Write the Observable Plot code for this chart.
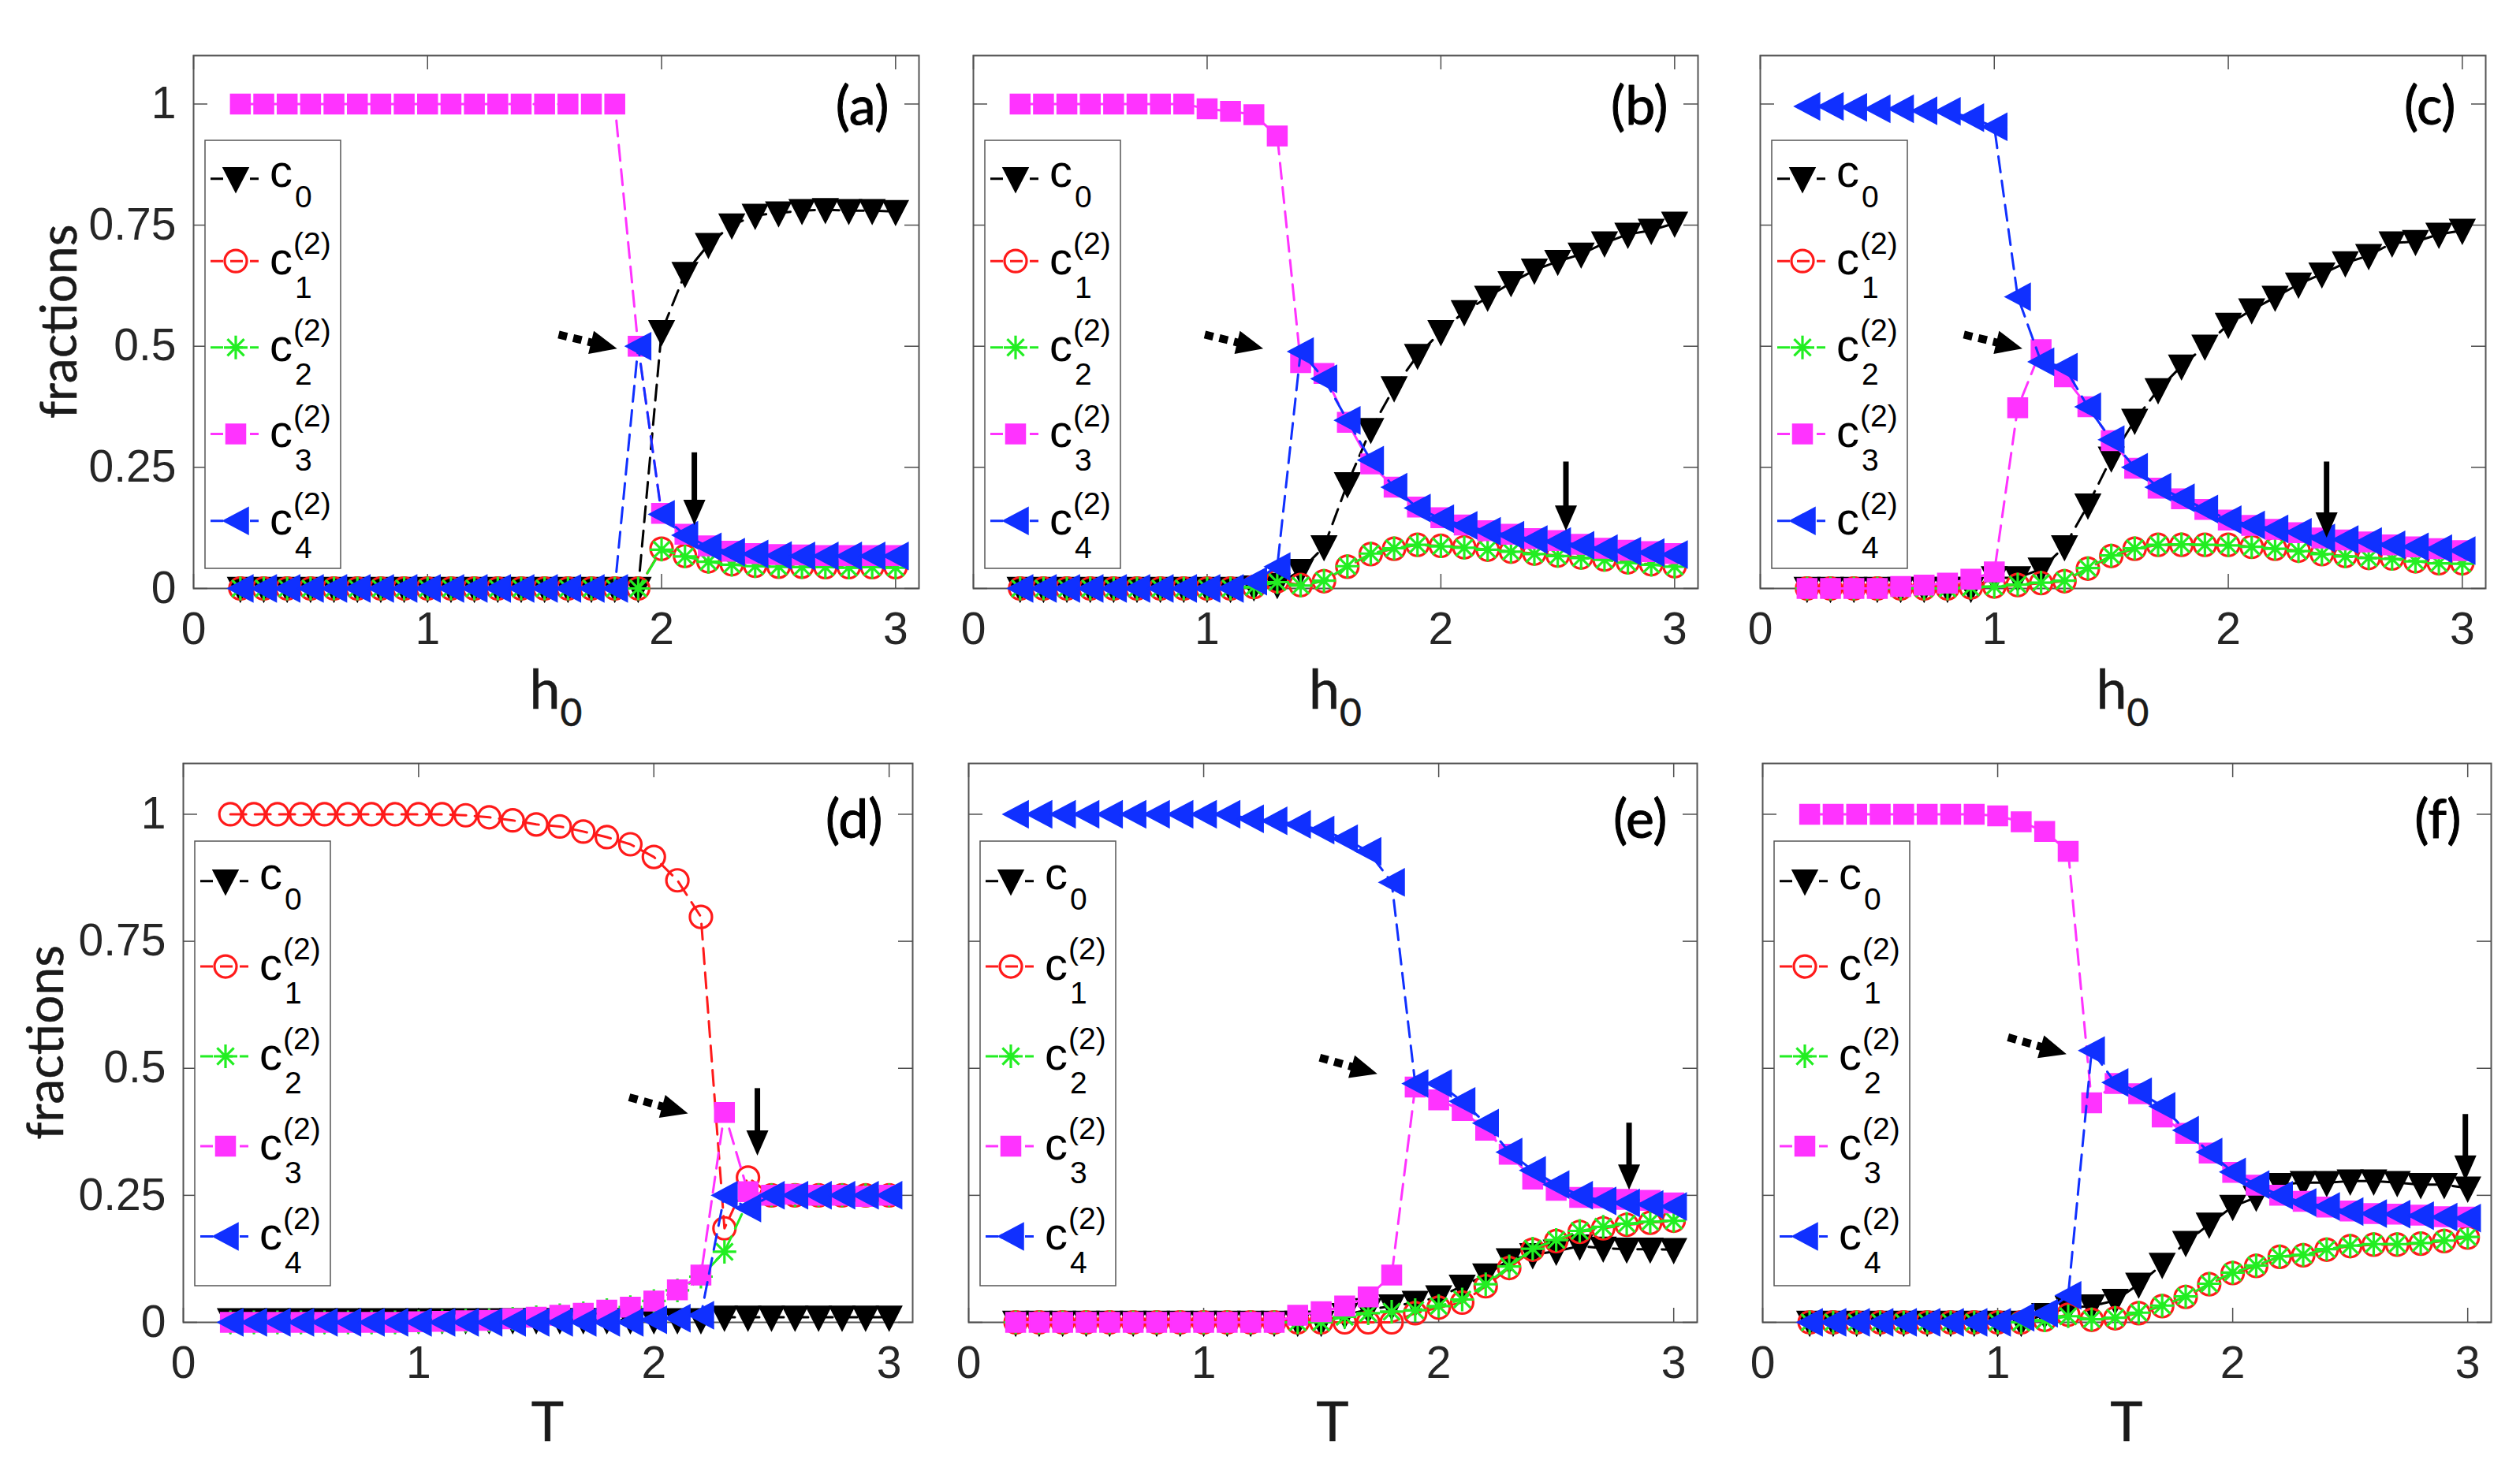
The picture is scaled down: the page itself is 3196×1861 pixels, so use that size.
<!DOCTYPE html>
<html><head><meta charset="utf-8">
<script src="https://cdn.jsdelivr.net/npm/d3@7"></script>
<script src="https://cdn.jsdelivr.net/npm/@observablehq/plot@0.6"></script>
<style>
html,body{margin:0;padding:0;background:#fff;}
#root{position:relative;width:3196px;height:1861px;overflow:hidden;background:#fff;}
</style></head><body><div id="root"></div>
<script>
// ---------- data ----------
const xValues = [0.2,0.3,0.4,0.5,0.6,0.7,0.8,0.9,1.0,1.1,1.2,1.3,1.4,1.5,1.6,1.7,1.8,1.9,2.0,2.1,2.2,2.3,2.4,2.5,2.6,2.7,2.8,2.9,3.0];
const xTicks = [0,1,2,3];
const yTicks = [0,0.25,0.5,0.75,1];
const seriesKeys = ["c0","c1","c2","c3","c4"];
const panelLabels = ["(a)","(b)","(c)","(d)","(e)","(f)"];

const a_c0 = [0,0,0,0,0,0,0,0,0,0,0,0,0,0,0,0,0,0,0.53,0.65,0.71,0.75,0.77,0.775,0.78,0.782,0.78,0.78,0.778];
const a_c1 = [0,0,0,0,0,0,0,0,0,0,0,0,0,0,0,0,0,0,0.082,0.067,0.056,0.05,0.047,0.045,0.045,0.044,0.044,0.044,0.044];
const a_c2 = [0,0,0,0,0,0,0,0,0,0,0,0,0,0,0,0,0,0,0.08,0.066,0.055,0.049,0.046,0.045,0.044,0.044,0.043,0.044,0.043];
const a_c3 = [1,1,1,1,1,1,1,1,1,1,1,1,1,1,1,1,1,0.5,0.155,0.112,0.088,0.077,0.072,0.07,0.069,0.068,0.068,0.068,0.068];
const a_c4 = [0,0,0,0,0,0,0,0,0,0,0,0,0,0,0,0,0,0.5,0.153,0.11,0.086,0.075,0.071,0.068,0.067,0.067,0.067,0.067,0.067];

const b_c0 = [0,0,0,0,0,0,0,0,0,0,0.003,0.008,0.037,0.086,0.216,0.328,0.414,0.481,0.53,0.571,0.601,0.631,0.657,0.675,0.69,0.713,0.731,0.739,0.754];
const b_c1 = [0,0,0,0,0,0,0,0,0,0,0.003,0.015,0.007,0.015,0.045,0.071,0.082,0.09,0.088,0.085,0.08,0.076,0.072,0.068,0.064,0.06,0.054,0.05,0.046];
const b_c2 = [0,0,0,0,0,0,0,0,0,0,0.003,0.013,0.006,0.016,0.046,0.072,0.083,0.09,0.087,0.084,0.08,0.076,0.071,0.067,0.063,0.059,0.053,0.049,0.045];
const b_c3 = [1,1,1,1,1,1,1,1,0.99,0.985,0.978,0.934,0.466,0.444,0.343,0.257,0.209,0.168,0.146,0.131,0.119,0.112,0.103,0.099,0.091,0.083,0.079,0.076,0.072];
const b_c4 = [0,0,0,0,0,0,0,0,0,0,0.015,0.045,0.489,0.433,0.347,0.265,0.209,0.166,0.144,0.13,0.118,0.11,0.101,0.097,0.089,0.082,0.077,0.074,0.07];

const c_c0 = [0,0,0,0,0,0,0,0,0.022,0.022,0.04,0.086,0.172,0.269,0.347,0.41,0.459,0.5,0.545,0.575,0.601,0.628,0.649,0.672,0.687,0.713,0.716,0.731,0.739];
const c_c1 = [0,0,0,0,0,0,0,0.002,0.004,0.007,0.011,0.015,0.041,0.067,0.082,0.09,0.09,0.09,0.09,0.086,0.082,0.078,0.071,0.067,0.063,0.062,0.056,0.052,0.052];
const c_c2 = [0,0,0,0,0,0,0,0.002,0.004,0.008,0.012,0.016,0.042,0.068,0.083,0.09,0.091,0.09,0.089,0.086,0.082,0.077,0.071,0.066,0.063,0.061,0.056,0.052,0.051];
const c_c3 = [0,0,0,0,0.004,0.007,0.011,0.019,0.034,0.373,0.493,0.437,0.375,0.305,0.248,0.207,0.185,0.163,0.141,0.13,0.122,0.115,0.104,0.1,0.096,0.09,0.086,0.082,0.078];
const c_c4 = [0.995,0.995,0.993,0.99,0.99,0.986,0.985,0.972,0.953,0.602,0.468,0.457,0.375,0.307,0.25,0.209,0.187,0.164,0.142,0.131,0.123,0.116,0.104,0.101,0.097,0.09,0.086,0.082,0.078];

const d_c0 = [0.005,0.005,0.005,0.005,0.005,0.005,0.005,0.005,0.005,0.005,0.005,0.005,0.005,0.005,0.005,0.005,0.005,0.005,0.005,0.005,0.005,0.01,0.01,0.01,0.01,0.01,0.01,0.01,0.01];
const d_c1 = [1,1,1,1,1,1,1,1,1,1,0.998,0.994,0.988,0.98,0.976,0.966,0.955,0.941,0.916,0.87,0.798,0.185,0.285,0.25,0.25,0.25,0.25,0.25,0.25];
const d_c2 = [0,0,0,0,0,0,0,0,0.001,0.002,0.003,0.004,0.007,0.01,0.014,0.018,0.024,0.03,0.042,0.063,0.09,0.139,0.239,0.25,0.25,0.25,0.25,0.25,0.25];
const d_c3 = [0,0,0,0,0,0,0,0,0.001,0.002,0.003,0.004,0.007,0.01,0.014,0.018,0.024,0.03,0.042,0.064,0.093,0.413,0.257,0.25,0.252,0.25,0.25,0.248,0.25];
const d_c4 = [0,0,0,0,0,0,0,0,0,0,0,0,0,0,0,0,0,0,0.005,0.008,0.014,0.25,0.225,0.25,0.25,0.25,0.25,0.25,0.25];

const e_c0 = [0,0,0,0,0,0,0,0,0,0,0,0,0,0,0.015,0.025,0.032,0.039,0.05,0.071,0.093,0.123,0.133,0.14,0.15,0.146,0.144,0.144,0.143];
const e_c1 = [0,0,0,0,0,0,0,0,0,0,0,0,0,0,0,0,0,0.018,0.029,0.039,0.071,0.107,0.143,0.16,0.178,0.185,0.192,0.196,0.2];
const e_c2 = [0,0,0,0,0,0,0,0,0,0,0,0,0,0,0.011,0.018,0.021,0.024,0.032,0.045,0.075,0.11,0.145,0.162,0.18,0.188,0.194,0.198,0.2];
const e_c3 = [0,0,0,0,0,0,0,0,0,0,0,0,0.014,0.021,0.032,0.05,0.093,0.463,0.438,0.417,0.378,0.331,0.282,0.26,0.246,0.245,0.242,0.24,0.235];
const e_c4 = [1,1,1,1,1,1,1,1,1,1,0.991,0.987,0.98,0.969,0.952,0.927,0.866,0.47,0.47,0.435,0.392,0.335,0.299,0.271,0.25,0.239,0.235,0.232,0.228];

const f_c0 = [0,0,0,0,0,0,0,0,0,0,0.015,0.029,0.032,0.043,0.075,0.114,0.157,0.193,0.228,0.246,0.271,0.275,0.275,0.278,0.278,0.275,0.271,0.271,0.264];
const f_c1 = [0,0,0,0,0,0,0,0,0,0,0.005,0.015,0.005,0.008,0.018,0.032,0.05,0.075,0.097,0.111,0.129,0.132,0.143,0.15,0.153,0.153,0.155,0.16,0.167];
const f_c2 = [0,0,0,0,0,0,0,0,0,0,0.004,0.012,0.006,0.009,0.019,0.033,0.051,0.076,0.098,0.112,0.13,0.133,0.144,0.151,0.154,0.154,0.156,0.161,0.168];
const f_c3 = [1,1,1,1,1,1,1,1,0.997,0.985,0.966,0.927,0.432,0.47,0.45,0.404,0.372,0.333,0.295,0.27,0.25,0.238,0.227,0.219,0.214,0.213,0.211,0.208,0.207];
const f_c4 = [0,0,0,0,0,0,0,0,0,0.01,0.018,0.053,0.535,0.472,0.454,0.425,0.378,0.335,0.296,0.271,0.25,0.236,0.228,0.218,0.214,0.213,0.21,0.207,0.205];

// annotation arrows in data units: [x1, y1, x2(tip), y2(tip)]
const dottedArrows = [[1.56,0.524,1.81,0.495],[0.99,0.524,1.24,0.495],[0.87,0.524,1.12,0.495],[1.895,0.443,2.145,0.411],[1.494,0.521,1.739,0.489],[1.044,0.561,1.293,0.528]];
const downArrows = [[2.14,0.281,2.14,0.131],[2.535,0.262,2.535,0.119],[2.42,0.262,2.42,0.105],[2.44,0.461,2.44,0.328],[2.81,0.393,2.81,0.261],[2.99,0.41,2.99,0.279]];

// ---------- layout / style ----------
const panels = [
  {L:245, R:1165, T:70,  B:746,  series:[a_c0,a_c1,a_c2,a_c3,a_c4], xlab:"h", row:0, yLabels:true,  ylabX:97},
  {L:1234,R:2153, T:70,  B:746,  series:[b_c0,b_c1,b_c2,b_c3,b_c4], xlab:"h", row:0, yLabels:false},
  {L:2232,R:3152, T:70,  B:746,  series:[c_c0,c_c1,c_c2,c_c3,c_c4], xlab:"h", row:0, yLabels:false},
  {L:232, R:1157, T:968, B:1677, series:[d_c0,d_c1,d_c2,d_c3,d_c4], xlab:"T", row:1, yLabels:true,  ylabX:80},
  {L:1228,R:2152, T:968, B:1677, series:[e_c0,e_c1,e_c2,e_c3,e_c4], xlab:"T", row:1, yLabels:false},
  {L:2235,R:3159, T:968, B:1677, series:[f_c0,f_c1,f_c2,f_c3,f_c4], xlab:"T", row:1, yLabels:false}
];
const FONT = "'Liberation Sans', Arial, Helvetica, sans-serif";
const LFONT = "Lato, 'Open Sans', sans-serif";
const AXC = "#262626";

function sym(fn){ return {draw(ctx){ fn(ctx); }}; }
const triDown = sym(c=>{c.moveTo(-16,-14);c.lineTo(16,-14);c.lineTo(0,17);c.closePath();});
const triLeft = sym(c=>{c.moveTo(-16,0);c.lineTo(16,-17);c.lineTo(16,17);c.closePath();});
const square  = sym(c=>{c.rect(-12.5,-12.5,25,25);});
const circ    = sym(c=>{c.moveTo(14,0);c.arc(0,0,14,0,2*Math.PI);});
const star    = sym(c=>{const r=15,d=r*0.7071;c.moveTo(-r,0);c.lineTo(r,0);c.moveTo(0,-r);c.lineTo(0,r);c.moveTo(-d,-d);c.lineTo(d,d);c.moveTo(-d,d);c.lineTo(d,-d);});
function headSymbol(angle,L,W){const c=Math.cos(angle),s=Math.sin(angle);return {draw(ctx){const bx=-L*c,by=-L*s,vx=-s*W/2,vy=c*W/2;ctx.moveTo(0,0);ctx.lineTo(bx+vx,by+vy);ctx.lineTo(bx-vx,by-vy);ctx.closePath();}};}

const styles = [
  {color:"#000000", symbol:triDown, fill:"#000000", stroke:"#000000", sw:1.5},
  {color:"#ff1a1a", symbol:circ,    fill:"none",    stroke:"#ff1a1a", sw:3.2},
  {color:"#22ee22", symbol:star,    fill:"none",    stroke:"#22ee22", sw:3.2},
  {color:"#ff33ff", symbol:square,  fill:"#ff33ff", stroke:"#ff33ff", sw:1.5},
  {color:"#1030ff", symbol:triLeft, fill:"#1030ff", stroke:"#1030ff", sw:1.5}
];

const root = document.getElementById("root");
const mL=150,mR=8,mT=8,mB=90;

panels.forEach((p,pi)=>{
  const fw=p.R-p.L, fh=p.B-p.T;
  const pxX=fw/3.1, pxY=fh/1.1;
  const tlX=18/pxX, tlY=18/pxY;
  const tc="#4d4d4d";
  const marks=[
    Plot.frame({stroke:"#555", strokeWidth:2}),
    Plot.ruleX(xTicks,{x:d=>d,y1:0,y2:tlY,stroke:tc,strokeWidth:1.5}),
    Plot.ruleX(xTicks,{x:d=>d,y1:1.1-tlY,y2:1.1,stroke:tc,strokeWidth:1.5}),
    Plot.ruleY(yTicks,{y:d=>d,x1:0,x2:tlX,stroke:tc,strokeWidth:1.5}),
    Plot.ruleY(yTicks,{y:d=>d,x1:3.1-tlX,x2:3.1,stroke:tc,strokeWidth:1.5}),
    Plot.axisX(xTicks,{tickSize:0,tickPadding:30,tickFormat:d=>String(d),fontSize:57,label:null,fill:AXC})
  ];
  if(p.yLabels) marks.push(Plot.axisY(yTicks,{tickSize:0,tickPadding:22,tickFormat:d=>String(d),fontSize:57,label:null,fill:AXC}));
  p.series.forEach((arr,si)=>{
    const st=styles[si];
    const data=xValues.map((xv,i)=>({x:xv,y:arr[i]}));
    marks.push(Plot.line(data,{x:"x",y:"y",stroke:st.color,strokeWidth:3,strokeDasharray:"20,11"}));
    marks.push(Plot.dot(data,{x:"x",y:"y",symbol:st.symbol,fill:st.fill,stroke:st.stroke,strokeWidth:st.sw}));
  });
  // dotted arrow
  const da=dottedArrows[pi];
  const ang=Math.atan2(-(da[3]-da[1])*pxY,(da[2]-da[0])*pxX);
  const HL=34, HW=30;
  const base={x1:da[0],y1:da[1],x2:da[2]-(HL-4)*Math.cos(ang)/pxX,y2:da[3]+(HL-4)*Math.sin(ang)/pxY};
  marks.push(Plot.link([base],{x1:"x1",y1:"y1",x2:"x2",y2:"y2",stroke:"#000",strokeWidth:10,strokeDasharray:"11,8"}));
  marks.push(Plot.dot([{x:da[2],y:da[3]}],{x:"x",y:"y",symbol:headSymbol(ang,HL,HW),fill:"#000",stroke:"none"}));
  // solid down arrow
  const sa=downArrows[pi];
  const HL2=32, HW2=28;
  marks.push(Plot.link([{x1:sa[0],y1:sa[1],x2:sa[2],y2:sa[3]+(HL2-4)/pxY}],{x1:"x1",y1:"y1",x2:"x2",y2:"y2",stroke:"#000",strokeWidth:7}));
  marks.push(Plot.dot([{x:sa[2],y:sa[3]}],{x:"x",y:"y",symbol:headSymbol(Math.PI/2,HL2,HW2),fill:"#000",stroke:"none"}));
  // panel label
  marks.push(Plot.text([panelLabels[pi]],{text:d=>d,frameAnchor:"top-right",textAnchor:"end",lineAnchor:"middle",dx:-38,dy:p.row===0?66:73,fontSize:68,fontFamily:LFONT,fill:"#000",stroke:"#000",strokeWidth:1.0}));

  const svg=Plot.plot({
    width:fw+mL+mR, height:fh+mT+mB,
    marginLeft:mL, marginRight:mR, marginTop:mT, marginBottom:mB,
    x:{domain:[0,3.1], axis:null},
    y:{domain:[0,1.1], axis:null},
    style:{background:"transparent",overflow:"visible",fontFamily:FONT,fontSize:"57px",color:AXC},
    marks
  });
  svg.style.position="absolute";
  svg.style.left=(p.L-mL)+"px";
  svg.style.top=(p.T-mT)+"px";
  svg.style.maxWidth="none";
  root.appendChild(svg);
});

// ---------- overlay: axis titles and legends ----------
const ov=d3.create("svg").attr("width",3196).attr("height",1861)
  .style("position","absolute").style("left","0px").style("top","0px");

panels.forEach((p,pi)=>{
  const cx=(p.L+p.R)/2;
  const xt=ov.append("text").attr("x",cx).attr("y",p.row===0?899:1828).attr("text-anchor","middle")
    .attr("font-family",LFONT).attr("font-size",70).attr("fill","#1a1a1a")
    .attr("stroke","#1a1a1a").attr("stroke-width",0.5).text(p.xlab);
  if(p.xlab==="h") xt.append("tspan").attr("font-size",48).attr("dy",22).text("0");
  if(p.yLabels){
    const cy=(p.T+p.B)/2;
    ov.append("text").attr("transform",`translate(${p.ylabX},${cy}) rotate(-90)`).attr("text-anchor","middle")
      .attr("font-family",LFONT).attr("font-size",64).attr("fill","#1a1a1a")
      .attr("stroke","#1a1a1a").attr("stroke-width",0.5).text("fractions");
  }
  // legend
  const lx=p.L+15, ly=p.T+(p.row===0?108:99), lw=172, lh=(p.row===0?543:564);
  const g=ov.append("g");
  g.append("rect").attr("x",lx).attr("y",ly).attr("width",lw).attr("height",lh)
    .attr("fill","#fff").attr("stroke","#555").attr("stroke-width",1.5);
  const fr=[0.09,0.282,0.484,0.686,0.889];
  seriesKeys.forEach((k,i)=>{
    const st=styles[i], my=ly+fr[i]*lh;
    g.append("line").attr("x1",lx+7).attr("x2",lx+68).attr("y1",my).attr("y2",my)
      .attr("stroke",st.color).attr("stroke-width",3).attr("stroke-dasharray","16,9");
    const path=d3.path(); st.symbol.draw(path);
    g.append("path").attr("d",path.toString()).attr("transform",`translate(${lx+39},${my})`)
      .attr("fill",st.fill).attr("stroke",st.stroke).attr("stroke-width",st.sw);
    g.append("text").attr("x",lx+82).attr("y",my+(i===0?10:17)).attr("font-family",FONT).attr("font-size",58).attr("fill","#000").text("c");
    g.append("text").attr("x",lx+114).attr("y",my+(i===0?36:47)).attr("font-family",FONT).attr("font-size",39).attr("fill","#000").text(String(i));
    if(i>0) g.append("text").attr("x",lx+112).attr("y",my-9).attr("font-family",FONT).attr("font-size",39).attr("fill","#000").text("(2)");
  });
});
root.appendChild(ov.node());
</script></body></html>
